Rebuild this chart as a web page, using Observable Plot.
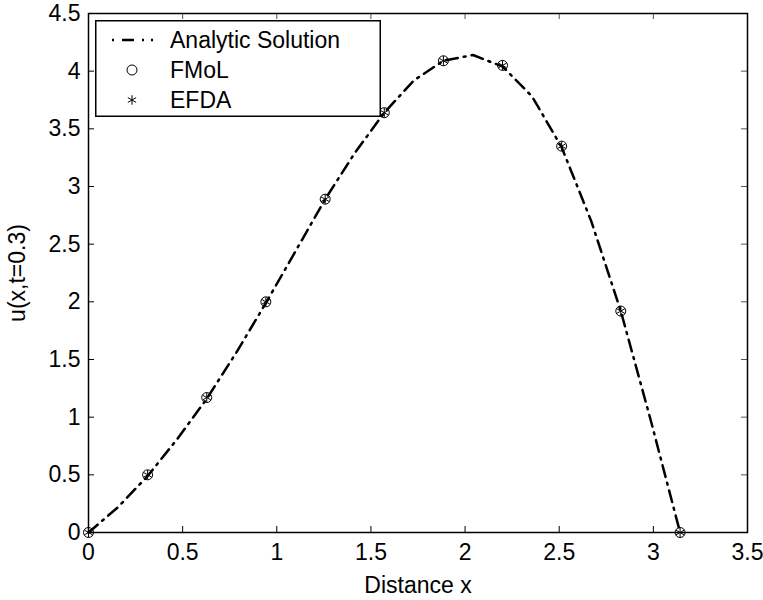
<!DOCTYPE html>
<html>
<head>
<meta charset="utf-8">
<script src="https://cdn.jsdelivr.net/npm/d3@7"></script>
<script src="https://cdn.jsdelivr.net/npm/@observablehq/plot@0.6"></script>
<style>
  body { margin: 0; background: white; }
  #wrap { position: relative; width: 763px; height: 600px; font-family: "Liberation Sans", Arial, Helvetica, sans-serif; }
  #legend { position: absolute; left: 95px; top: 20px; }
</style>
</head>
<body>
<div id="wrap"></div>
<script>
// ---- data ----
const analyticX = [0, 0.157, 0.314, 0.471, 0.628, 0.785, 0.942, 1.100, 1.257, 1.414, 1.571, 1.728, 1.885, 2.042, 2.199, 2.356, 2.513, 2.670, 2.827, 2.985, 3.142];
const analyticU = [0, 0.22, 0.49, 0.81, 1.16, 1.56, 1.99, 2.44, 2.89, 3.29, 3.64, 3.92, 4.09, 4.14, 4.04, 3.78, 3.34, 2.70, 1.92, 0.98, 0];
const sampleX = [0, 0.314, 0.628, 0.942, 1.257, 1.571, 1.885, 2.199, 2.513, 2.827, 3.142];
const fmolU = [0, 0.50, 1.17, 2.00, 2.89, 3.64, 4.09, 4.05, 3.35, 1.92, 0];
const efdaU = [0, 0.50, 1.17, 2.00, 2.89, 3.64, 4.09, 4.05, 3.35, 1.92, 0];
const xTicks = [0, 0.5, 1, 1.5, 2, 2.5, 3, 3.5];
const xTickLabels = ["0", "0.5", "1", "1.5", "2", "2.5", "3", "3.5"];
const yTicks = [0, 0.5, 1, 1.5, 2, 2.5, 3, 3.5, 4, 4.5];
const yTickLabels = ["0", "0.5", "1", "1.5", "2", "2.5", "3", "3.5", "4", "4.5"];
const legendLabels = ["Analytic Solution", "FMoL", "EFDA"];

const analytic = analyticX.map((x, i) => ({x, u: analyticU[i]}));
const fmol = sampleX.map((x, i) => ({x, u: fmolU[i]}));
const efda = sampleX.map((x, i) => ({x, u: efdaU[i]}));

const W = 763, H = 600, mL = 88, mR = 16, mT = 13, mB = 68;
const plotW = W - mL - mR, plotH = H - mT - mB, tick = 6;
const dash = "12,6,2,6";

const chart = Plot.plot({
  width: W, height: H,
  marginLeft: mL, marginRight: mR, marginTop: mT, marginBottom: mB,
  style: {fontFamily: "'Liberation Sans', Arial, Helvetica, sans-serif", fontSize: "23px", background: "white", color: "black"},
  x: {domain: [0, 3.5]},
  y: {domain: [0, 4.5]},
  marks: [
    Plot.tickX(xTicks, {x: d => d, insetTop: plotH - tick, stroke: "black", strokeWidth: 1}),
    Plot.tickX(xTicks, {x: d => d, insetBottom: plotH - tick, stroke: "#555", strokeWidth: 1}),
    Plot.tickY(yTicks, {y: d => d, insetRight: plotW - tick, stroke: "black", strokeWidth: 1}),
    Plot.tickY(yTicks, {y: d => d, insetLeft: plotW - tick, stroke: "#555", strokeWidth: 1}),
    Plot.axisX({ticks: xTicks, tickFormat: (d) => xTickLabels[xTicks.indexOf(d)], tickSize: 0, tickPadding: 11,
      label: "Distance x", labelAnchor: "center", labelArrow: "none", labelOffset: 60}),
    Plot.axisY({ticks: yTicks, tickFormat: (d) => yTickLabels[yTicks.indexOf(d)], tickSize: 0, tickPadding: 8,
      label: "u(x,t=0.3)", labelAnchor: "center", labelArrow: "none", labelOffset: 80}),
    Plot.line(analytic, {x: "x", y: "u", stroke: "black", strokeWidth: 2.5, strokeDasharray: dash}),
    Plot.dot(fmol, {x: "x", y: "u", r: 5, stroke: "black", strokeWidth: 1, fill: "none"}),
    Plot.dot(efda, {x: "x", y: "u", r: 4.5, symbol: "asterisk", stroke: "black", strokeWidth: 1}),
    Plot.frame({stroke: "black", strokeWidth: 1.5})
  ]
});

const wrap = document.getElementById("wrap");
wrap.appendChild(chart);

// legend overlay
const lg = d3.select(wrap).append("svg").attr("id", "legend")
  .attr("width", 286).attr("height", 97)
  .style("font-family", "'Liberation Sans', Arial, Helvetica, sans-serif")
  .style("font-size", "23px");
lg.append("rect").attr("x", 0.75).attr("y", 0.75).attr("width", 284.5).attr("height", 95.5)
  .attr("fill", "white").attr("stroke", "black").attr("stroke-width", 1.5);
const rowY = [20, 50, 80];
lg.append("line").attr("x1", 17).attr("x2", 60).attr("y1", rowY[0]).attr("y2", rowY[0])
  .attr("stroke", "black").attr("stroke-width", 2.5).attr("stroke-dasharray", "2,8,12,8,2,7,2,20");
lg.append("circle").attr("cx", 37).attr("cy", rowY[1]).attr("r", 5).attr("fill", "none").attr("stroke", "black");
lg.append("path").attr("d", d3.symbol(d3.symbolAsterisk, Math.PI * 4.5 * 4.5)()).attr("transform", `translate(37,${rowY[2]})`)
  .attr("stroke", "black").attr("fill", "none");
legendLabels.forEach((t, i) => {
  lg.append("text").attr("x", 75).attr("y", rowY[i]).attr("dy", "0.35em").text(t);
});
</script>
</body>
</html>
